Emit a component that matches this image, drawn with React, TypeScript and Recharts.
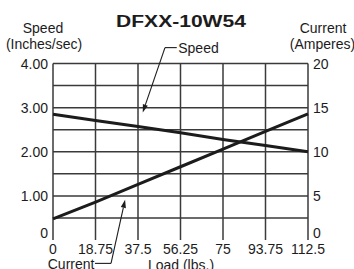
import React from 'react';
import { LineChart, Line, XAxis, YAxis, ReferenceLine } from 'recharts';

const loads = [0, 18.75, 37.5, 56.25, 75, 93.75, 112.5];
const speedIps = [2.85, 2.71, 2.57, 2.43, 2.28, 2.14, 2.0];
const currentAmps = [2.4, 4.3, 6.3, 8.3, 10.3, 12.3, 14.3];
const loadTicks = [0, 18.75, 37.5, 56.25, 75, 93.75, 112.5];
const speedTicks = [0, 1, 2, 3, 4];
const currentTicks = [0, 5, 10, 15, 20];
const speedGrid = [0.5, 1, 1.5, 2, 2.5, 3, 3.5, 4];

const title = 'DFXX-10W54';
const xTitle = 'Load (lbs.)';

// annotation anchors (data coordinates)
const speedNote = { label: 'Speed', bend: { x: 49.4, y: 4.36 }, tip: { x: 39.6, y: 2.89 }, end: { x: 54.6, y: 4.36 } };
const currentNote = { label: 'Current', bend: { x: 25.6, y: -0.53 }, tip: { x: 31.8, y: 0.91 }, end: { x: 18.5, y: -0.53 } };

const data = loads.map((l, i) => ({ load: l, speed: speedIps[i], current: currentAmps[i] }));

const FONT = "'Liberation Sans', Arial, Helvetica, sans-serif";
const INK = '#1c1c1c';
const GRID = '#3a3a3a';

const ArrowShape = (props: any) => {
  const { x1, y1, x2, y2 } = props;
  const ang = Math.atan2(y2 - y1, x2 - x1);
  const len = 8;
  const half = 2.6;
  const bx = x2 - len * Math.cos(ang);
  const by = y2 - len * Math.sin(ang);
  const px = -Math.sin(ang) * half;
  const py = Math.cos(ang) * half;
  return (
    <g>
      <line x1={x1} y1={y1} x2={bx} y2={by} stroke={INK} strokeWidth={1.1} />
      <polygon points={`${x2},${y2} ${bx + px},${by + py} ${bx - px},${by - py}`} fill={INK} />
    </g>
  );
};

const leaderShape = (label: string, anchor: 'start' | 'end') => (props: any) => {
  const { x1, y1, x2, y2 } = props;
  const tx = anchor === 'start' ? x2 + 1.5 : x2 - 0.5;
  return (
    <g>
      <line x1={x1} y1={y1} x2={x2} y2={y2} stroke={INK} strokeWidth={1.1} />
      <text x={tx} y={y2 + 5.5} textAnchor={anchor} fontFamily={FONT} fontSize={14} fill={INK}>
        {label}
      </text>
    </g>
  );
};

const XTick = (props: any) => {
  const { x, y, payload } = props;
  return (
    <text x={x} y={y + 14} textAnchor="middle" fontFamily={FONT} fontSize={14} fill={INK}>
      {String(payload.value)}
    </text>
  );
};

const LeftTick = (props: any) => {
  const { x, y, payload } = props;
  const v = payload.value as number;
  const label = v === 0 ? '0' : v.toFixed(2);
  const yy = v === 0 ? y - 2 : y + 5;
  return (
    <text x={x} y={yy} textAnchor="end" fontFamily={FONT} fontSize={14} fill={INK}>
      {label}
    </text>
  );
};

const RightTick = (props: any) => {
  const { x, y, payload } = props;
  const v = payload.value as number;
  const yy = v === 0 ? y - 2 : y + 5;
  return (
    <text x={x} y={yy} textAnchor="start" fontFamily={FONT} fontSize={14} fill={INK}>
      {String(v)}
    </text>
  );
};

export default function App() {
  return (
    <div style={{ position: 'absolute', left: 0, top: 0, width: 354, height: 269, background: '#fff', overflow: 'hidden' }}>
      <LineChart width={354} height={269} data={data} margin={{ top: 63.5, right: 0, bottom: 0, left: 0 }}>
        <XAxis
          dataKey="load"
          type="number"
          domain={[0, 112.5]}
          ticks={loadTicks}
          axisLine={false}
          tickLine={false}
          tickSize={0}
          tickMargin={0}
          height={29}
          interval={0}
          tick={<XTick />}
        />
        <YAxis
          yAxisId="left"
          orientation="left"
          type="number"
          domain={[0, 4]}
          ticks={speedTicks}
          axisLine={false}
          tickLine={false}
          tickSize={0}
          tickMargin={5}
          width={53}
          interval={0}
          tick={<LeftTick />}
        />
        <YAxis
          yAxisId="right"
          orientation="right"
          type="number"
          domain={[0, 20]}
          ticks={currentTicks}
          axisLine={false}
          tickLine={false}
          tickSize={0}
          tickMargin={5}
          width={46}
          interval={0}
          tick={<RightTick />}
        />
        {speedGrid.map((v) => (
          <ReferenceLine key={'h' + v} yAxisId="left" y={v} stroke={GRID} strokeWidth={1.5} />
        ))}
        {loadTicks.map((v) => (
          <ReferenceLine key={'v' + v} yAxisId="left" x={v} stroke={GRID} strokeWidth={1.5} />
        ))}
        <Line yAxisId="left" dataKey="speed" type="linear" stroke={INK} strokeWidth={3} dot={false} isAnimationActive={false} />
        <Line yAxisId="right" dataKey="current" type="linear" stroke={INK} strokeWidth={3} dot={false} isAnimationActive={false} />
        <ReferenceLine yAxisId="left" ifOverflow="visible" segment={[speedNote.bend, speedNote.tip]} shape={ArrowShape} />
        <ReferenceLine yAxisId="left" ifOverflow="visible" segment={[speedNote.bend, speedNote.end]} shape={leaderShape(speedNote.label, 'start')} />
        <ReferenceLine yAxisId="left" ifOverflow="visible" segment={[currentNote.bend, currentNote.tip]} shape={ArrowShape} />
        <ReferenceLine yAxisId="left" ifOverflow="visible" segment={[currentNote.bend, currentNote.end]} shape={leaderShape(currentNote.label, 'end')} />
      </LineChart>
      <svg width={354} height={269} style={{ position: 'absolute', left: 0, top: 0, pointerEvents: 'none' }}>
        <text x={181} y={27} textAnchor="middle" fontFamily={FONT} fontWeight="bold" fontSize={17} fill={INK}
          transform="translate(181 0) scale(1.24 1) translate(-181 0)">
          {title}
        </text>
        <text x={43} y={33} textAnchor="middle" fontFamily={FONT} fontSize={14} fill={INK}>Speed</text>
        <text x={44} y={49} textAnchor="middle" fontFamily={FONT} fontSize={14} fill={INK}>(Inches/sec)</text>
        <text x={323} y={33} textAnchor="middle" fontFamily={FONT} fontSize={14} fill={INK}>Current</text>
        <text x={322.5} y={49} textAnchor="middle" fontFamily={FONT} fontSize={14} fill={INK}>(Amperes)</text>
        <text x={181} y={270} textAnchor="middle" fontFamily={FONT} fontSize={14} fill={INK}>{xTitle}</text>
      </svg>
    </div>
  );
}
